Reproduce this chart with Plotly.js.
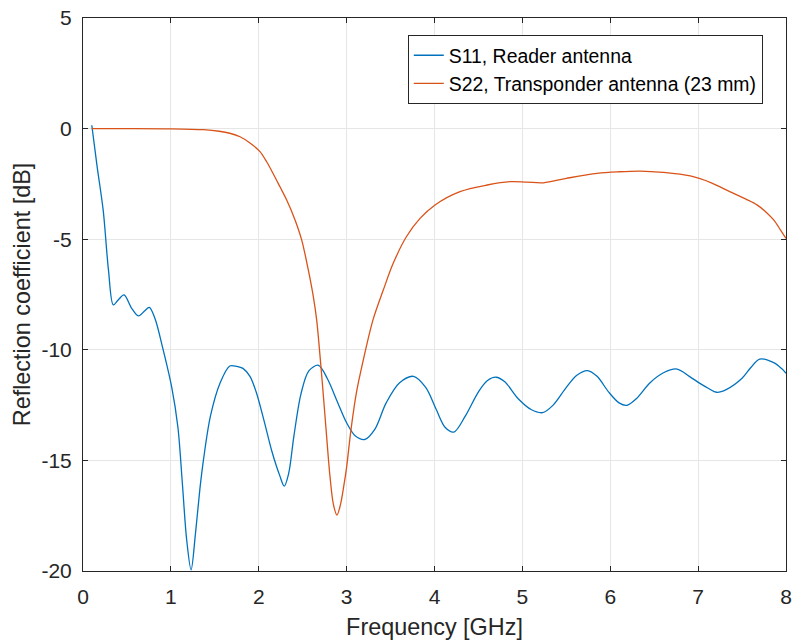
<!DOCTYPE html>
<html>
<head>
<meta charset="utf-8">
<script src="https://cdn.plot.ly/plotly-3.0.1.min.js"></script>
<style>html,body{margin:0;padding:0;background:#fff;}#chart{width:793px;height:640px;}</style>
</head>
<body>
<div id="chart"></div>
<script>
const s11Freq = [0.10,0.16,0.23,0.29,0.345,0.40,0.467,0.55,0.63,0.70,0.755,0.82,0.90,1.01,1.08,1.13,1.18,1.23,1.28,1.33,1.37,1.45,1.56,1.67,1.75,1.82,1.90,1.97,2.06,2.15,2.24,2.29,2.34,2.40,2.48,2.57,2.68,2.78,2.90,3.00,3.10,3.21,3.32,3.45,3.60,3.76,3.90,4.02,4.12,4.22,4.35,4.50,4.60,4.70,4.80,4.95,5.10,5.23,5.35,5.50,5.62,5.74,5.85,5.98,6.10,6.19,6.30,6.45,6.60,6.76,6.90,7.02,7.12,7.21,7.32,7.50,7.60,7.70,7.86,7.95,8.00];
const s11dB = [0.15,-1.7,-3.7,-6.4,-7.97,-7.75,-7.52,-8.1,-8.47,-8.25,-8.08,-8.6,-9.8,-11.7,-13.5,-16.0,-18.6,-19.95,-18.3,-16.3,-15.0,-13.0,-11.5,-10.73,-10.75,-10.84,-11.2,-11.9,-13.2,-14.6,-15.7,-16.16,-15.6,-13.9,-12.0,-10.95,-10.7,-11.3,-12.4,-13.3,-13.9,-14.05,-13.6,-12.4,-11.5,-11.2,-11.7,-12.7,-13.5,-13.72,-13.0,-11.9,-11.4,-11.24,-11.45,-12.2,-12.7,-12.84,-12.5,-11.7,-11.15,-10.94,-11.2,-11.9,-12.4,-12.51,-12.2,-11.5,-11.05,-10.87,-11.2,-11.52,-11.75,-11.92,-11.8,-11.29,-10.8,-10.42,-10.58,-10.85,-11.06];
const s22Freq = [0.10,0.50,1.00,1.37,1.55,1.67,1.787,1.90,2.014,2.09,2.166,2.24,2.318,2.413,2.489,2.564,2.621,2.659,2.70,2.74,2.78,2.81,2.85,2.89,2.93,2.97,3.00,3.05,3.11,3.19,3.30,3.417,3.53,3.68,3.835,4.006,4.29,4.60,4.86,5.05,5.24,5.50,5.85,6.10,6.34,6.60,6.91,7.15,7.36,7.55,7.67,7.78,7.86,7.94,8.00];
const s22dB = [0,0,-0.01,-0.05,-0.12,-0.21,-0.37,-0.65,-1.04,-1.5,-2.05,-2.62,-3.23,-4.13,-5.04,-6.39,-7.6,-8.65,-10.4,-12.3,-14.3,-15.7,-17.0,-17.47,-17.0,-16.1,-15.3,-13.6,-11.97,-10.46,-8.65,-7.30,-6.09,-4.89,-4.06,-3.45,-2.85,-2.55,-2.4,-2.42,-2.45,-2.25,-2.02,-1.95,-1.92,-1.98,-2.14,-2.45,-2.85,-3.2,-3.45,-3.8,-4.13,-4.6,-4.96];
const seriesNames = ['S11, Reader antenna','S22, Transponder antenna (23 mm)'];
const xTicks = [0,1,2,3,4,5,6,7,8];
const yTicks = [5,0,-5,-10,-15,-20];

const FONT = 'Liberation Sans, Arial, sans-serif';
const axisCommon = {
  showline: true, linecolor: '#262626', linewidth: 1, mirror: 'ticks',
  ticks: 'inside', ticklen: 5, tickcolor: '#262626', tickwidth: 1,
  showgrid: true, gridcolor: '#e6e6e6', gridwidth: 1, zeroline: false,
  tickfont: {family: FONT, size: 21, color: '#262626'}
};
const data = [
  {x: s11Freq, y: s11dB, type: 'scatter', mode: 'lines', name: seriesNames[0],
   line: {color: '#0072BD', width: 1.3, shape: 'spline', smoothing: 0.9}},
  {x: s22Freq, y: s22dB, type: 'scatter', mode: 'lines', name: seriesNames[1],
   line: {color: '#D95319', width: 1.3, shape: 'spline', smoothing: 0.9}}
];
const layout = {
  width: 793, height: 640,
  margin: {l: 83, r: 7, t: 18, b: 69},
  paper_bgcolor: '#fff', plot_bgcolor: '#fff',
  font: {family: FONT, color: '#262626'},
  showlegend: true,
  legend: {x: 0.462, y: 0.969, xanchor: 'left', yanchor: 'top',
    bgcolor: '#fff', bordercolor: '#262626', borderwidth: 1,
    font: {family: FONT, size: 19.4, color: '#000'}, tracegroupgap: 0},
  xaxis: Object.assign({}, axisCommon, {range: [0, 8], tickvals: xTicks, ticktext: xTicks.map(String),
    ticklabelstandoff: 7,
    title: {text: 'Frequency [GHz]', font: {family: FONT, size: 23.4, color: '#262626'}, standoff: 12}}),
  yaxis: Object.assign({}, axisCommon, {range: [-20, 5], tickvals: yTicks, ticktext: yTicks.map(String),
    ticklabelstandoff: 6,
    title: {text: 'Reflection coefficient [dB]', font: {family: FONT, size: 23.4, color: '#262626'}, standoff: 4}})
};
Plotly.newPlot('chart', data, layout, {staticPlot: true, displayModeBar: false});
</script>
</body>
</html>
